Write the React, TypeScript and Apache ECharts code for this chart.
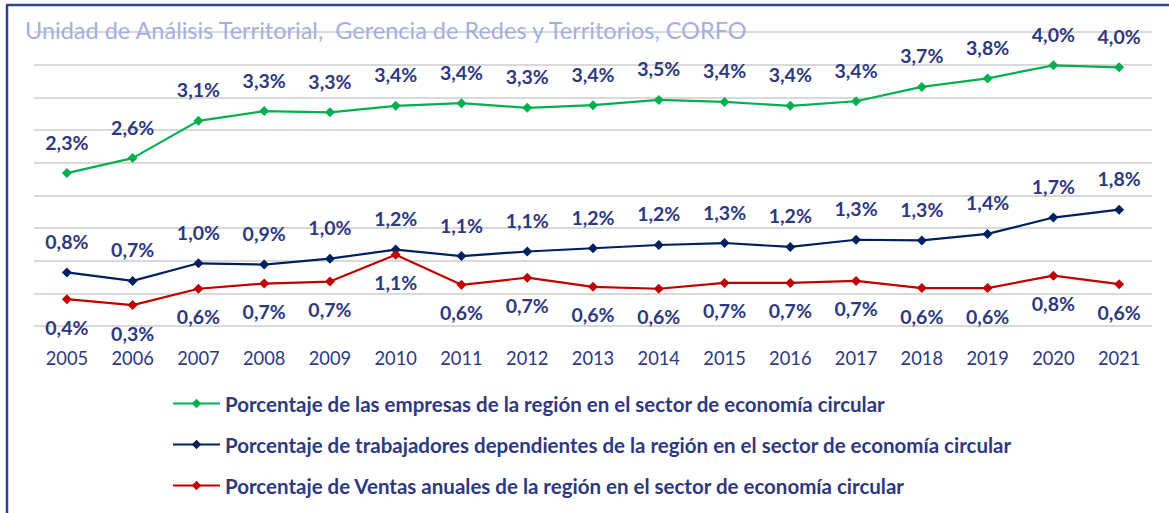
import React, { useEffect, useRef } from "react";
import * as echarts from "echarts";

const years = ["2005","2006","2007","2008","2009","2010","2011","2012","2013","2014","2015","2016","2017","2018","2019","2020","2021"];
const empresas = [2.34, 2.57, 3.14, 3.29, 3.27, 3.37, 3.41, 3.34, 3.38, 3.46, 3.43, 3.37, 3.44, 3.66, 3.79, 3.99, 3.96];
const trabajadores = [0.82, 0.69, 0.96, 0.94, 1.03, 1.17, 1.07, 1.14, 1.19, 1.24, 1.27, 1.21, 1.32, 1.31, 1.41, 1.66, 1.78];
const ventas = [0.41, 0.32, 0.57, 0.65, 0.68, 1.09, 0.63, 0.74, 0.60, 0.57, 0.66, 0.66, 0.69, 0.58, 0.58, 0.77, 0.64];

const seriesNames = [
  "Porcentaje de las empresas de la región en el sector de economía circular",
  "Porcentaje de trabajadores dependientes de la región en el sector de economía circular",
  "Porcentaje de Ventas anuales de la región en el sector de economía circular",
];
const colors = ["#00b050", "#002060", "#c00000"];
const titleText = "Unidad de Análisis Territorial,  Gerencia de Redes y Territorios, CORFO";

const FONT = "Lato, 'Open Sans', sans-serif";
const LABEL_COLOR = "#2e3880";

const fmt = (p: any) => Number(p.value).toFixed(1).replace(".", ",") + "%";

export default function App() {
  const ref = useRef<HTMLDivElement>(null);
  useEffect(() => {
    if (!ref.current) return;
    const chart = echarts.init(ref.current, null, { renderer: "svg" });
    const mkSeries = (name: string, data: number[], color: string, pos: "top" | "bottom", dist: number) => ({
      name,
      type: "line",
      data,
      symbol: "diamond",
      symbolSize: 10,
      lineStyle: { color, width: 2.2 },
      itemStyle: { color },
      label: {
        show: true,
        position: pos,
        distance: dist,
        formatter: fmt,
        color: LABEL_COLOR,
        fontFamily: FONT,
        fontWeight: "bold",
        fontSize: 19.5,
        lineHeight: 18,
      },
    });
    chart.setOption({
      animation: false,
      backgroundColor: "#ffffff",
      title: {
        text: titleText,
        left: 20,
        top: 13,
        textStyle: { color: "#a6aee0", fontFamily: FONT, fontWeight: "normal", fontSize: 23.5 },
      },
      grid: { left: 34, right: 17, top: 32, bottom: 187 },
      xAxis: {
        type: "category",
        data: years,
        boundaryGap: true,
        axisLine: { show: false },
        axisTick: { show: false },
        axisLabel: { color: LABEL_COLOR, fontFamily: FONT, fontSize: 18.3, lineHeight: 16, margin: 24 },
      },
      yAxis: {
        type: "value",
        min: 0,
        max: 4.5,
        interval: 0.5,
        axisLabel: { show: false },
        axisLine: { show: false },
        axisTick: { show: false },
        splitLine: { lineStyle: { color: "#d9d9d9", width: 2 } },
      },
      legend: {
        orient: "vertical",
        left: 167,
        top: 388,
        itemWidth: 47,
        itemHeight: 12,
        itemGap: 20,
        data: seriesNames,
        textStyle: { color: LABEL_COLOR, fontFamily: FONT, fontWeight: "bold", fontSize: 20.5, lineHeight: 21 },
      },
      graphic: [
        { type: "line", shape: { x1: 7, y1: 5, x2: 7, y2: 513 }, style: { stroke: "#33408a", lineWidth: 2.5 } },
        { type: "line", shape: { x1: 6, y1: 5, x2: 1169, y2: 5 }, style: { stroke: "#33408a", lineWidth: 2.5 } },
      ],
      series: [
        mkSeries(seriesNames[0], empresas, colors[0], "top", 17),
        mkSeries(seriesNames[1], trabajadores, colors[1], "top", 17),
        mkSeries(seriesNames[2], ventas, colors[2], "bottom", 14),
      ],
    });
    return () => chart.dispose();
  }, []);
  return (
    <div
      ref={ref}
      style={{ position: "fixed", left: 0, top: 0, width: 1169, height: 513, background: "#fff" }}
    />
  );
}
